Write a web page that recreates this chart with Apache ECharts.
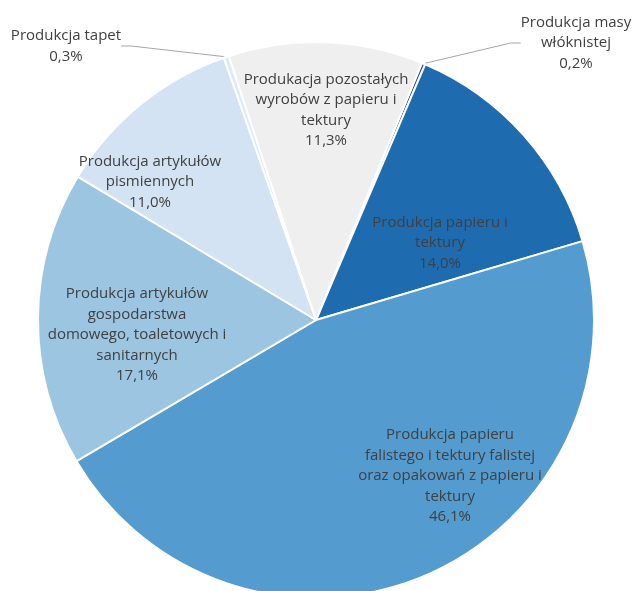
<!DOCTYPE html>
<html>
<head>
<meta charset="utf-8">
<script src="https://cdn.jsdelivr.net/npm/echarts@6/dist/echarts.min.js"></script>
<style>
  html, body { margin: 0; padding: 0; background: #fff; }
  #chart { width: 633px; height: 591px; }
</style>
</head>
<body>
<div id="chart"></div>
<script>
// dane - udział sektorów (%), kolejność zgodnie z ruchem wskazówek zegara
const categories = [
  'Produkcja masy\nwłóknistej',
  'Produkcja papieru i\ntektury',
  'Produkcja papieru\nfalistego i tektury falistej\noraz opakowań z papieru i\ntektury',
  'Produkcja artykułów\ngospodarstwa\ndomowego, toaletowych i\nsanitarnych',
  'Produkcja artykułów\npismiennych',
  'Produkcja tapet',
  'Produkacja pozostałych\nwyrobów z papieru i\ntektury'
];
const values = [0.2, 14.0, 46.1, 17.1, 11.0, 0.3, 11.3];
const colors = ['#2F5597', '#1F6BB0', '#549BCF', '#9BC5E0', '#D3E3F3', '#DDEBF7', '#EFEFEF'];
const outside = [true, false, false, false, false, true, false];

// pozycje etykiet (środek tekstu)
const labelPos = [
  [576, 43], [440, 243], [450, 476], [137, 335], [150, 182], [66, 46], [326, 110]
];

const chart = echarts.init(document.getElementById('chart'));

const option = {
  animation: false,
  series: [{
    type: 'pie',
    center: [316, 320],
    radius: 278,
    startAngle: 67.6,
    clockwise: true,
    avoidLabelOverlap: false,
    itemStyle: { borderColor: '#fff', borderWidth: 2 },
    label: {
      color: '#404040',
      fontFamily: 'Open Sans, Liberation Sans, sans-serif',
      fontSize: 15,
      lineHeight: 20.5,
      align: 'center',
      formatter: (p) => p.name + '\n' + p.value.toFixed(1).replace('.', ',') + '%'
    },
    labelLine: { lineStyle: { color: '#A6A6A6', width: 1 }, length: 10, length2: 10 },
    labelLayout: (params) => {
      const pos = labelPos[params.dataIndex];
      return { x: pos[0], y: pos[1], align: 'center', verticalAlign: 'middle' };
    },
    data: categories.map((name, i) => ({
      name: name,
      value: values[i],
      itemStyle: { color: colors[i] },
      label: { position: outside[i] ? 'outside' : 'inside' },
      labelLine: { show: outside[i] }
    }))
  }]
};

chart.setOption(option);
</script>
</body>
</html>
